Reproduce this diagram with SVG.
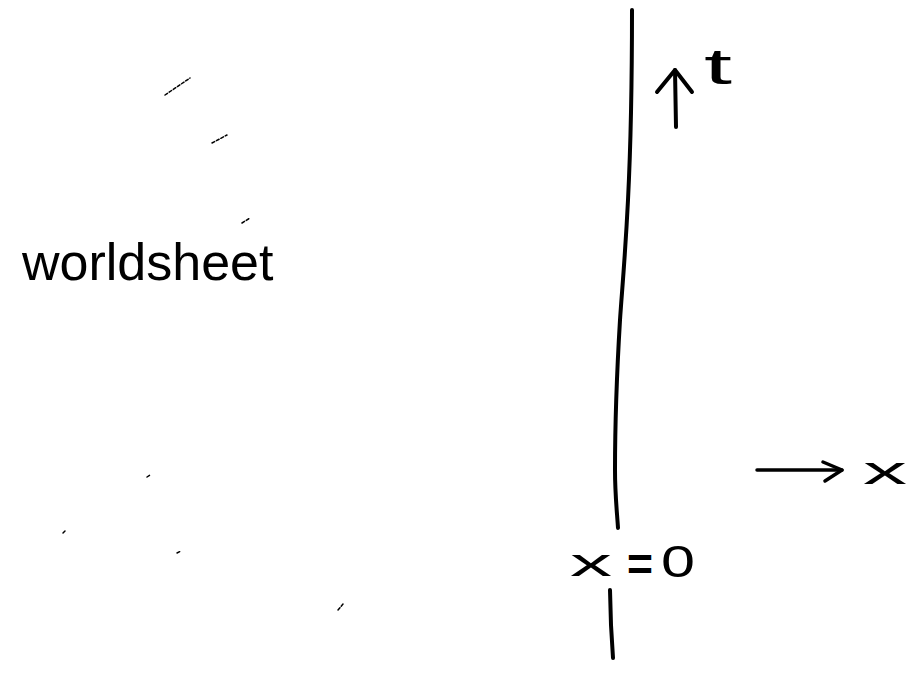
<svg xmlns="http://www.w3.org/2000/svg" width="919" height="674" viewBox="0 0 919 674">
<style>
.ink{fill:none;stroke:#000;stroke-linecap:round;stroke-linejoin:round}
.txt{font-family:"Liberation Sans","DejaVu Sans",sans-serif;fill:#000}
.dash{stroke:#000;stroke-width:1.5;stroke-linecap:round;stroke-dasharray:3 2}
</style>
<rect width="919" height="674" fill="#fff"/>
<g id="boundary">
<path class="ink" stroke-width="4" d="M632,10 C632,80 631,140 628,200 C625,260 622,290 620,320 C617,370 615,420 615,470 C615,495 617,512 618,528"/>
<path class="ink" stroke-width="4" d="M610,590 L611,625 L613,658"/>
</g>
<g id="label-worldsheet">
<text class="txt" x="22" y="280" font-size="52">worldsheet</text>
</g>
<g id="label-x0">
<text class="txt" x="570" y="576" font-size="38" textLength="42" lengthAdjust="spacingAndGlyphs">x</text>
<text class="txt" x="627" y="580" font-size="46" font-weight="bold" textLength="26" lengthAdjust="spacingAndGlyphs">=</text>
<text class="txt" x="661" y="577" font-size="44" textLength="34" lengthAdjust="spacingAndGlyphs">0</text>
</g>
<g id="connectors">
<g id="time-arrow">
<path class="ink" stroke-width="4" d="M675,70 L676,127"/>
<path class="ink" stroke-width="4" d="M657,92 L675,70 L692,92"/>
</g>
<g id="x-arrow">
<path class="ink" stroke-width="3.5" d="M757,470 L842,470"/>
<path class="ink" stroke-width="3.5" d="M823,462 L842,470 L825,481"/>
</g>
</g>
<g id="label-t">
<text class="txt" x="704" y="84" font-size="50" textLength="28" lengthAdjust="spacingAndGlyphs">t</text>
</g>
<g id="label-x">
<text class="txt" x="863" y="484" font-size="38" textLength="44" lengthAdjust="spacingAndGlyphs">x</text>
</g>
<g id="marks">
<line class="dash" x1="165" y1="95" x2="190" y2="78"/>
<line class="dash" x1="212" y1="143" x2="227" y2="135"/>
<line class="dash" x1="242" y1="223" x2="250" y2="218"/>
<line class="dash" x1="147" y1="477" x2="150" y2="475"/>
<line class="dash" x1="63" y1="533" x2="65" y2="531"/>
<line class="dash" x1="177" y1="553" x2="181" y2="551"/>
<line class="dash" x1="338" y1="610" x2="343" y2="604"/>
</g>
</svg>
